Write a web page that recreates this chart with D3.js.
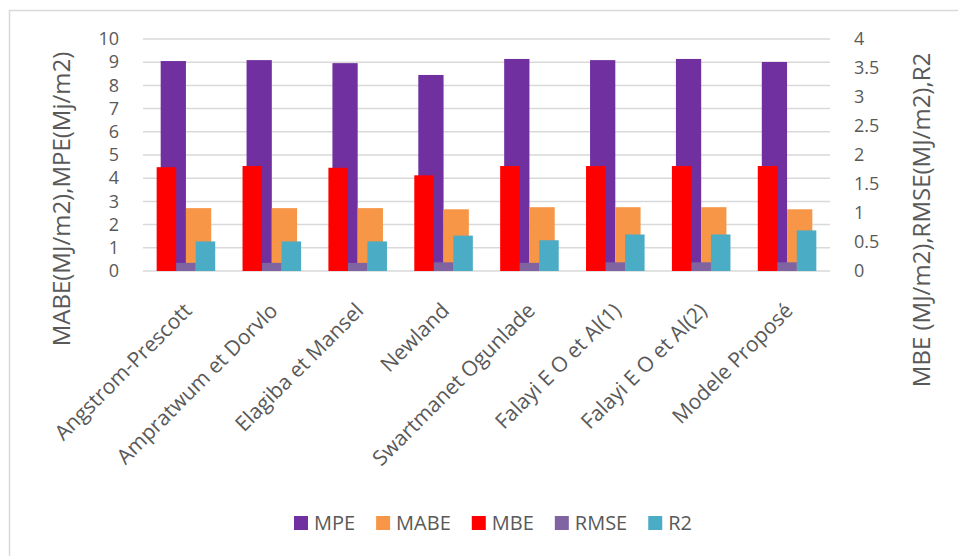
<!DOCTYPE html>
<html>
<head>
<meta charset="utf-8">
<script src="https://cdn.jsdelivr.net/npm/d3@7"></script>
<style>
  body { margin: 0; background: #fff; }
  text { font-family: "Open Sans", "Liberation Sans", sans-serif; fill: #595959; }
</style>
</head>
<body>
<div id="chart"></div>
<script>
const categories = ["Angstrom-Prescott", "Ampratwum et Dorvlo", "Elagiba et Mansel", "Newland",
  "Swartmanet Ogunlade", "Falayi E O et Al(1)", "Falayi E O et Al(2)", "Modele Proposé"]
// left axis series
const MPE  = [9.05, 9.09, 8.96, 8.45, 9.14, 9.09, 9.14, 9.01]
const MABE = [2.71, 2.71, 2.71, 2.66, 2.75, 2.75, 2.75, 2.66]
// right axis series
const MBE  = [1.79, 1.81, 1.78, 1.65, 1.81, 1.81, 1.81, 1.81]
const RMSE = [0.14, 0.14, 0.14, 0.15, 0.14, 0.15, 0.15, 0.15]
const R2   = [0.51, 0.51, 0.51, 0.61, 0.53, 0.63, 0.63, 0.70]
const leftTicks = [0, 1, 2, 3, 4, 5, 6, 7, 8, 9, 10]
const rightTicks = [0, 0.5, 1, 1.5, 2, 2.5, 3, 3.5, 4]

const COLORS = { MPE: "#7030A0", MABE: "#F79646", MBE: "#FF0000", RMSE: "#8064A2", R2: "#4BACC6" }
const primary = [{ name: "MPE", values: MPE }, { name: "MABE", values: MABE }]
const secondary = [{ name: "MBE", values: MBE }, { name: "RMSE", values: RMSE }, { name: "R2", values: R2 }]
const legendOrder = ["MPE", "MABE", "MBE", "RMSE", "R2"]

const W = 958, H = 556
const PLOT = { LEFT: 143, RIGHT: 830, TOP: 39, BOTTOM: 271 }

const svg = d3.select("#chart").append("svg")
    .attr("width", W)
    .attr("height", H)

// chart area border
svg.append("rect")
    .attr("x", 9.5).attr("y", 10.5)
    .attr("width", W + 20).attr("height", H + 20)
    .attr("fill", "none")
    .attr("stroke", "#d9d9d9")
    .attr("stroke-width", 1.5)

const x = d3.scaleBand()
    .domain(categories)
    .range([PLOT.LEFT, PLOT.RIGHT])
    .padding(0)

const yL = d3.scaleLinear().domain([0, 10]).range([PLOT.BOTTOM, PLOT.TOP])
const yR = d3.scaleLinear().domain([0, 4]).range([PLOT.BOTTOM, PLOT.TOP])

const xP = d3.scaleBand().domain(primary.map(d => d.name))
    .range([0, x.bandwidth()]).paddingInner(0).paddingOuter(0.7)
const xS = d3.scaleBand().domain(secondary.map(d => d.name))
    .range([0, x.bandwidth()]).paddingInner(0).paddingOuter(0.7)

// gridlines
svg.append("g")
    .selectAll("line")
    .data(leftTicks)
    .join("line")
      .attr("x1", PLOT.LEFT).attr("x2", PLOT.RIGHT)
      .attr("y1", d => yL(d)).attr("y2", d => yL(d))
      .attr("stroke", "#d9d9d9")
      .attr("stroke-width", 1.5)

// left axis
const leftAxis = svg.append("g")
    .attr("transform", `translate(${PLOT.LEFT - 24}, 0)`)
    .call(d3.axisLeft(yL).tickValues(leftTicks).tickSize(0).tickPadding(0))
leftAxis.select(".domain").remove()
leftAxis.selectAll("text")
    .attr("font-size", 18)
    .attr("font-family", null)
    .attr("fill", "#595959")

// right axis
const rightAxis = svg.append("g")
    .attr("transform", `translate(${PLOT.RIGHT + 24}, 0)`)
    .call(d3.axisRight(yR).tickValues(rightTicks).tickSize(0).tickPadding(0).tickFormat(d3.format("")))
rightAxis.select(".domain").remove()
rightAxis.selectAll("text")
    .attr("font-size", 18)
    .attr("font-family", null)
    .attr("fill", "#595959")

// primary bars
const gP = svg.append("g")
primary.forEach(s => {
  gP.selectAll(null)
    .data(s.values)
    .join("rect")
      .attr("x", (d, i) => x(categories[i]) + xP(s.name))
      .attr("width", xP.bandwidth())
      .attr("y", d => yL(d))
      .attr("height", d => yL(0) - yL(d))
      .attr("fill", COLORS[s.name])
})

// secondary bars (drawn on top)
const gS = svg.append("g")
secondary.forEach(s => {
  gS.selectAll(null)
    .data(s.values)
    .join("rect")
      .attr("x", (d, i) => x(categories[i]) + xS(s.name))
      .attr("width", xS.bandwidth())
      .attr("y", d => yR(d))
      .attr("height", d => yR(0) - yR(d))
      .attr("fill", COLORS[s.name])
})

// category labels
svg.append("g")
    .selectAll("text")
    .data(categories)
    .join("text")
      .attr("transform", d => `translate(${x(d) + x.bandwidth() / 2 + 7}, 312) rotate(-45)`)
      .attr("text-anchor", "end")
      .attr("font-size", 21)
      .text(d => d)

// axis titles
svg.append("text")
    .attr("transform", `translate(70, 199) rotate(-90)`)
    .attr("text-anchor", "middle")
    .attr("font-size", 24)
    .text("MABE(MJ/m2),MPE(Mj/m2)")

svg.append("text")
    .attr("transform", `translate(930, 220) rotate(-90)`)
    .attr("text-anchor", "middle")
    .attr("font-size", 24)
    .text("MBE (MJ/m2),RMSE(MJ/m2),R2")

// legend
const legend = svg.append("g")
let lx = 0
legendOrder.forEach(name => {
  const g = legend.append("g")
  g.append("rect")
      .attr("y", -7)
      .attr("width", 14).attr("height", 14)
      .attr("fill", COLORS[name])
  const t = g.append("text")
      .attr("x", 20)
      .attr("y", 7)
      .attr("font-size", 20)
      .text(name)
  const w = 20 + t.node().getComputedTextLength()
  g.attr("transform", `translate(${lx}, 0)`)
  lx += w + 21
})
const legendW = lx - 21
legend.attr("transform", `translate(${493 - legendW / 2}, 523)`)
</script>
</body>
</html>
